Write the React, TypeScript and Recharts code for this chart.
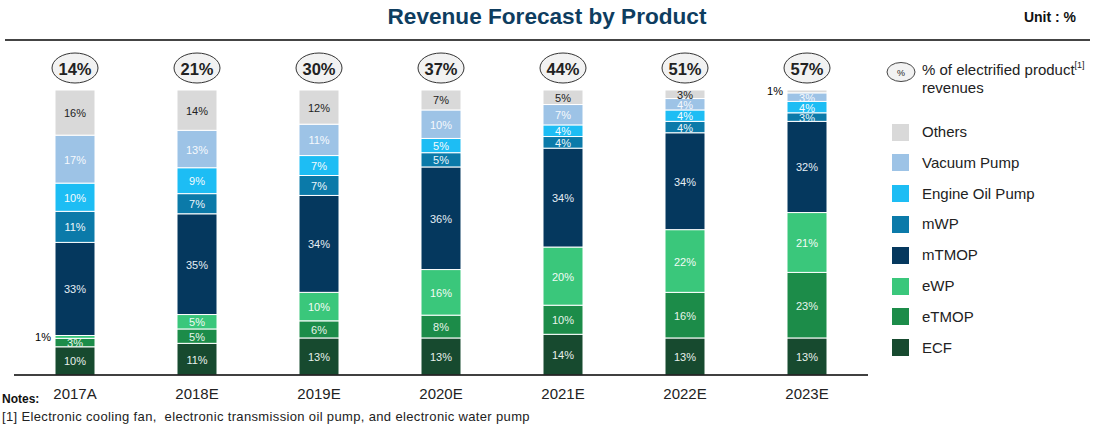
import React from 'react';
import { BarChart, Bar, XAxis, YAxis, LabelList } from 'recharts';

const categories = ['2017A', '2018E', '2019E', '2020E', '2021E', '2022E', '2023E'];
const ecf = [10, 11, 13, 13, 14, 13, 13];
const etmop = [3, 5, 6, 8, 10, 16, 23];
const ewp = [1, 5, 10, 16, 20, 22, 21];
const mtmop = [33, 35, 34, 36, 34, 34, 32];
const mwp = [11, 7, 7, 5, 4, 4, 3];
const eop = [10, 9, 7, 5, 4, 4, 4];
const vacuum = [17, 13, 11, 10, 7, 4, 3];
const others = [16, 14, 12, 7, 5, 3, 1];
const electrified = [14, 21, 30, 37, 44, 51, 57];

const seriesDefs = [
  { key: 'ECF', vals: ecf, color: '#174a2f', text: '#e8f0ec' },
  { key: 'eTMOP', vals: etmop, color: '#1c8c49', text: '#e8f4ec' },
  { key: 'eWP', vals: ewp, color: '#3ac77b', text: '#f2fbf5' },
  { key: 'mTMOP', vals: mtmop, color: '#05385e', text: '#e6eef5' },
  { key: 'mWP', vals: mwp, color: '#0b7aa9', text: '#eef6fb' },
  { key: 'Engine Oil Pump', vals: eop, color: '#1dbdf4', text: '#f4fbfe' },
  { key: 'Vacuum Pump', vals: vacuum, color: '#9dc3e6', text: '#f6f9fd' },
  { key: 'Others', vals: others, color: '#d9d9d9', text: '#222222' },
];

const data = categories.map((c, i) => {
  const row: any = { name: c };
  seriesDefs.forEach((s) => (row[s.key] = s.vals[i]));
  return row;
});

const FONT = '"Liberation Sans", Arial, sans-serif';

const getBox = (props: any) => {
  const vb = props.viewBox || {};
  return {
    x: props.x ?? vb.x,
    y: props.y ?? vb.y,
    width: props.width ?? vb.width,
    height: props.height ?? vb.height,
  };
};

const segLabel = (vals: number[], color: string) => (props: any) => {
  const { x, y, width, height } = getBox(props);
  const v = vals[props.index];
  if (v === undefined || x === undefined) return null;
  if (v <= 1) {
    return (
      <text x={x - 4} y={y + height / 2} textAnchor="end" dominantBaseline="central"
        fontSize={11} fontFamily={FONT} fill="#000">{v}%</text>
    );
  }
  return (
    <text x={x + width / 2} y={y + height / 2 + 0.5} textAnchor="middle" dominantBaseline="central"
      fontSize={11} fontFamily={FONT} fill={color}>{v}%</text>
  );
};

const ellipseLabel = (props: any) => {
  const { x, y, width } = getBox(props);
  const v = electrified[props.index];
  if (v === undefined || x === undefined) return null;
  const cx = x + width / 2;
  const cy = y - 22;
  return (
    <g>
      <ellipse cx={cx} cy={cy} rx={23} ry={15} fill="#f2f2f2" stroke="#333" strokeWidth={1} />
      <text x={cx} y={cy + 1} textAnchor="middle" dominantBaseline="central" fontSize={16.5}
        fontWeight="bold" fontFamily={FONT} fill="#222">{v}%</text>
    </g>
  );
};

const legendItems = [
  { label: 'Others', color: '#d9d9d9' },
  { label: 'Vacuum Pump', color: '#9dc3e6' },
  { label: 'Engine Oil Pump', color: '#1dbdf4' },
  { label: 'mWP', color: '#0b7aa9' },
  { label: 'mTMOP', color: '#05385e' },
  { label: 'eWP', color: '#3ac77b' },
  { label: 'eTMOP', color: '#1c8c49' },
  { label: 'ECF', color: '#174a2f' },
];

export default function App() {
  return (
    <div style={{ position: 'absolute', left: 0, top: 0, width: 1094, height: 426, background: '#fff', fontFamily: FONT }}>
      <div style={{ position: 'absolute', left: 0, top: 4, width: 1094, textAlign: 'center', fontSize: 22.6,
        fontWeight: 'bold', color: '#0e3d5f', fontFamily: '"Liberation Sans Narrow", "Arial Narrow", ' + FONT, lineHeight: '26px' }}>
        Revenue Forecast by Product
      </div>
      <div style={{ position: 'absolute', right: 18, top: 8, fontSize: 14, fontWeight: 'bold', color: '#111',
        fontFamily: '"Liberation Sans Narrow", "Arial Narrow", ' + FONT, lineHeight: '18px' }}>
        Unit : %
      </div>
      <div style={{ position: 'absolute', left: 5, top: 39, width: 1085, height: 2, background: '#444' }} />
      <div style={{ position: 'absolute', left: 0, top: 0 }}>
        <BarChart width={1094} height={426} data={data} stackOffset="expand"
          margin={{ top: 90, right: 226, bottom: 21, left: 14 }} barSize={40}>
          <XAxis dataKey="name" height={30} axisLine={{ stroke: '#000', strokeWidth: 1.5 }} tickLine={false}
            tickMargin={7} tick={{ fontSize: 15, fill: '#222', fontFamily: FONT }} interval={0} />
          <YAxis hide domain={[0, 1]} />
          {seriesDefs.map((s, si) => (
            <Bar key={s.key} dataKey={s.key} stackId="a" fill={s.color} stroke="#fff" strokeWidth={1}
              isAnimationActive={false}>
              <LabelList dataKey={s.key} content={segLabel(s.vals, s.text)} />
              {si === seriesDefs.length - 1 ? <LabelList dataKey={s.key} content={ellipseLabel} /> : null}
            </Bar>
          ))}
        </BarChart>
      </div>
      {/* Legend */}
      <svg style={{ position: 'absolute', left: 885, top: 61 }} width={32} height={22}>
        <ellipse cx={16} cy={11} rx={14} ry={9.5} fill="#f2f2f2" stroke="#444" strokeWidth={1} />
        <text x={16} y={12} textAnchor="middle" dominantBaseline="central" fontSize={9} fontFamily={FONT} fill="#222">%</text>
      </svg>
      <div style={{ position: 'absolute', left: 922, top: 61, fontSize: 15, color: '#222', lineHeight: '18px' }}>
        % of electrified product<sup style={{ fontSize: 9, verticalAlign: 'top', lineHeight: '10px', position: 'relative', top: -1 }}>[1]</sup>
        <br />revenues
      </div>
      {legendItems.map((it, i) => (
        <div key={it.label} style={{ position: 'absolute', left: 892, top: 123 + i * 30.8, height: 18, display: 'flex', alignItems: 'center' }}>
          <div style={{ width: 17, height: 17, background: it.color }} />
          <div style={{ marginLeft: 13, fontSize: 15, color: '#222', lineHeight: '18px', whiteSpace: 'nowrap' }}>{it.label}</div>
        </div>
      ))}
      <div style={{ position: 'absolute', left: 2, top: 392, fontSize: 12, fontWeight: 'bold', color: '#111', lineHeight: '14px' }}>Notes:</div>
      <div style={{ position: 'absolute', left: 2, top: 409, fontSize: 13, letterSpacing: 0.35, color: '#222', lineHeight: '15px', whiteSpace: 'pre' }}>
        [1] Electronic cooling fan,  electronic transmission oil pump, and electronic water pump
      </div>
    </div>
  );
}
